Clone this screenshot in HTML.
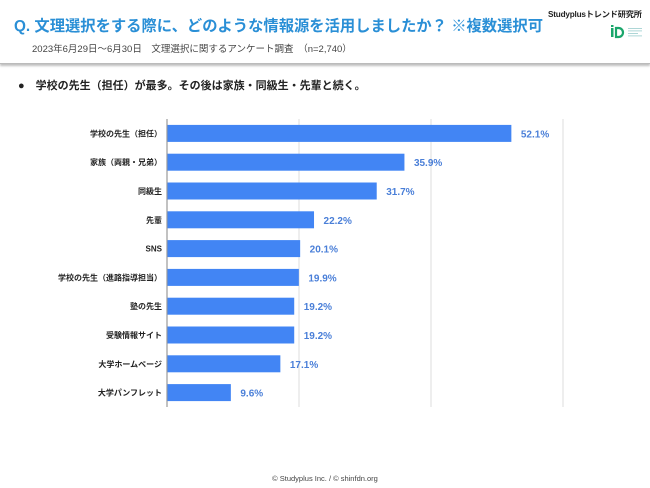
<!DOCTYPE html>
<html><head><meta charset="utf-8">
<style>
body{margin:0;width:650px;height:488px;background:#fff;font-family:"Liberation Sans","Noto Sans CJK JP",sans-serif;position:relative;overflow:hidden}
#header{position:absolute;left:0;top:0;width:650px;height:63px;background:#fff;border-bottom:1px solid #bbb;box-shadow:0 2px 2px rgba(0,0,0,0.25)}
#title{position:absolute;left:14px;top:14px;font-size:15.3px;font-weight:bold;color:#2a8fd6;white-space:nowrap}
#sub{position:absolute;left:32px;top:41px;font-size:9.5px;color:#444;white-space:nowrap}
#brand{position:absolute;left:548px;top:8px;font-size:8.2px;font-weight:bold;color:#222;white-space:nowrap;letter-spacing:-0.2px}
#bullet{position:absolute;left:18px;top:77px;font-size:11px;font-weight:bold;color:#222;white-space:nowrap}
#footer{position:absolute;left:0;top:474px;width:650px;text-align:center;font-size:7.5px;color:#444}
svg text{font-family:"Liberation Sans","Noto Sans CJK JP",sans-serif}
</style></head><body>
<div id="header">
<div id="title">Q. 文理選択をする際に、どのような情報源を活用しましたか？ ※複数選択可</div>
<div id="sub">2023年6月29日〜6月30日　文理選択に関するアンケート調査　（n=2,740）</div>
<div id="brand">Studyplusトレンド研究所</div>
<svg style="position:absolute;left:610px;top:25px" width="38" height="14">
<rect x="1" y="3" width="2.5" height="9" fill="#1aa66b"/><rect x="1" y="0" width="2.5" height="2" fill="#1aa66b"/>
<path d="M6 3 h2.5 a4.5 4.5 0 0 1 0 9 h-2.5 z" fill="none" stroke="#1aa66b" stroke-width="2.2"/>
<rect x="18" y="3" width="14" height="0.8" fill="#9cc"/><rect x="18" y="5.5" width="14" height="0.8" fill="#9cc"/><rect x="18" y="8" width="10" height="0.8" fill="#9cc"/><rect x="18" y="10.5" width="14" height="0.8" fill="#9cc"/>
</svg>
</div>
<div id="bullet">●　学校の先生（担任）が最多。その後は家族・同級生・先輩と続く。</div>
<svg id="chart" width="650" height="488" style="position:absolute;left:0;top:0"></svg>
<div id="footer">© Studyplus Inc. / © shinfdn.org</div>
<script>
const categories=["学校の先生（担任）","家族（両親・兄弟）","同級生","先輩","SNS","学校の先生（進路指導担当）","塾の先生","受験情報サイト","大学ホームページ","大学パンフレット"];
const values=[52.1,35.9,31.7,22.2,20.1,19.9,19.2,19.2,17.1,9.6];
const labels=["52.1%","35.9%","31.7%","22.2%","20.1%","19.9%","19.2%","19.2%","17.1%","9.6%"];
const gridTicks=[0,20,40,60];
const svg=document.getElementById('chart');const NS='http://www.w3.org/2000/svg';
const x0=167,pxPer=6.6,top0=119,bot=407,step=(bot-top0)/categories.length,bh=17;
const xs=v=>x0+v*pxPer;
function mk(t,a){const e=document.createElementNS(NS,t);for(const k in a)e.setAttribute(k,a[k]);svg.appendChild(e);return e;}
gridTicks.forEach((t,i)=>{const l=mk('line',{x1:xs(t),x2:xs(t),y1:top0,y2:bot,stroke:i==0?'#999':'#ddd','stroke-width':i==0?1.2:1});

});
categories.forEach((c,i)=>{const cy=top0+step*(i+0.5);
const r=mk('rect',{x:x0+0.5,y:cy-bh/2,width:xs(values[i])-x0,height:bh,fill:'#4285f4'});


const t=mk('text',{x:x0-5,y:cy+3,'text-anchor':'end','font-size':'8','font-weight':'bold',fill:'#222'});t.textContent=c;


const v=mk('text',{x:xs(values[i])+10,y:cy+4,'font-size':'10','font-weight':'bold',fill:'#4a7fd8'});v.textContent=labels[i];

});
</script>
</body></html>
